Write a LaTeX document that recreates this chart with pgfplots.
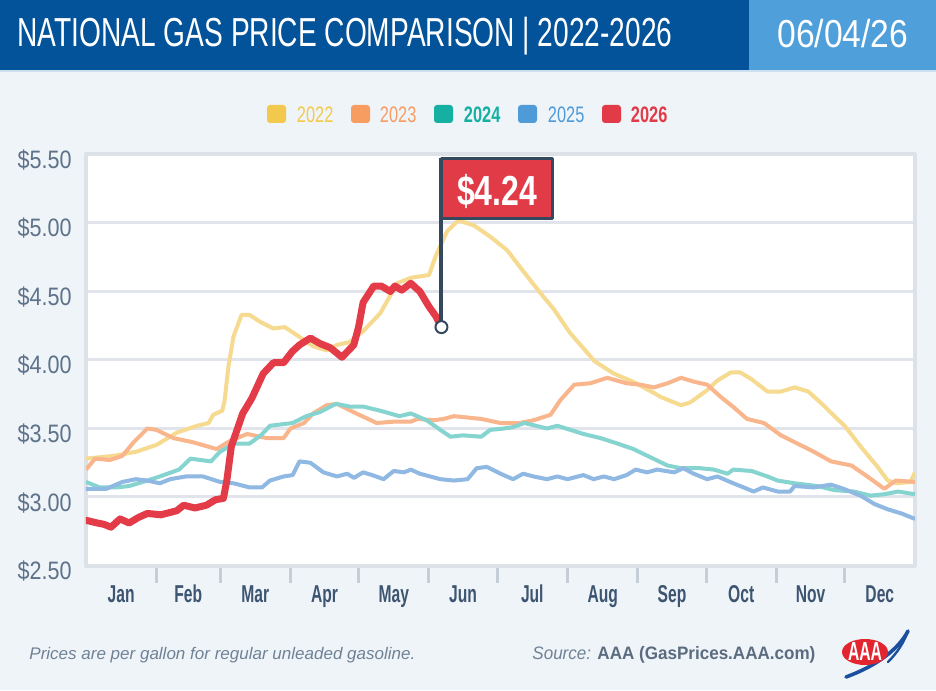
\documentclass[border=0pt]{standalone}
\usepackage{fontspec}
\setmainfont{Liberation Sans}
\usepackage{graphicx}
\usepackage{pgfplots}
\usepackage{pgfplotstable}
\pgfplotsset{compat=1.18}

\definecolor{bgcol}{HTML}{EFF4F9}
\definecolor{hdrdark}{HTML}{02539A}
\definecolor{hdrlight}{HTML}{4F9FDA}
\definecolor{hdrline}{HTML}{CDE0F2}
\definecolor{framecol}{HTML}{DDE2E9}
\definecolor{gridcol}{HTML}{E1E4EA}
\definecolor{tickcol}{HTML}{C5CDD6}
\definecolor{ylabcol}{HTML}{5E7289}
\definecolor{monthcol}{HTML}{3D5570}
\definecolor{slate}{HTML}{34495E}
\definecolor{flagred}{HTML}{E23B48}
\definecolor{leg22}{HTML}{F2C94C}
\definecolor{leg23}{HTML}{F79D62}
\definecolor{leg24}{HTML}{15B0A1}
\definecolor{leg25}{HTML}{4F9BD8}
\definecolor{leg26}{HTML}{E23B48}
\definecolor{ln22}{HTML}{F6DA8F}
\definecolor{ln23}{HTML}{F9B58C}
\definecolor{ln24}{HTML}{86D4D0}
\definecolor{ln25}{HTML}{8FB8E3}
\definecolor{ln26}{HTML}{E33B47}
\definecolor{foot}{HTML}{6F8196}
\definecolor{footbold}{HTML}{5B6C80}
\definecolor{aaared}{HTML}{E2252F}
\definecolor{aaablue}{HTML}{1D4F9F}

\newcommand\ylab[1]{\resizebox{27pt}{\height}{\fontsize{12.6pt}{14pt}\selectfont #1}}
\newcommand\mon[1]{\scalebox{0.64}[1]{\fontsize{12.2pt}{14pt}\selectfont\bfseries #1}}
\newcommand\legtxt[2]{\resizebox{20.5pt}{\height}{\fontsize{11.2pt}{13pt}\selectfont #1 #2}}

\pgfplotstableread{
d p
0 3.28
12 3.30
22 3.33
31 3.38
40 3.47
49 3.52
54 3.54
56 3.60
60 3.63
61 3.70
62.7 3.95
64.9 4.17
68.5 4.33
72 4.33
76.5 4.28
82.5 4.23
87.5 4.24
93 4.18
100 4.10
106 4.07
110.5 4.11
116 4.13
122 4.21
129.5 4.34
137 4.56
143 4.60
151 4.62
154 4.76
159 4.94
164 5.02
171 4.98
178 4.90
185.5 4.80
191 4.68
200 4.49
206 4.37
213 4.20
224 3.99
232.5 3.90
241 3.84
250 3.76
253 3.73
262 3.67
266 3.69
273.5 3.78
278 3.85
284 3.91
288 3.91
293 3.86
300 3.77
306 3.77
312 3.80
318 3.77
324 3.68
329.5 3.59
334 3.52
341 3.37
348.5 3.22
353 3.12
357 3.10
363 3.11
365 3.18
}\tabA

\pgfplotstableread{
d p
0 3.20
4 3.28
10.5 3.27
16 3.30
21 3.40
27 3.50
31 3.49
38.5 3.43
47 3.40
57.5 3.35
63.5 3.41
71 3.46
79.5 3.43
87 3.43
90 3.50
96 3.54
100 3.61
106 3.67
110.5 3.68
119 3.61
128 3.54
135.5 3.55
143 3.55
146 3.57
153 3.56
157.5 3.57
162 3.59
174 3.57
182.5 3.54
191 3.54
197 3.56
204.5 3.60
209 3.71
215 3.82
222 3.83
229.5 3.87
238 3.83
244 3.82
250 3.80
256 3.83
262 3.87
268 3.84
273.5 3.82
279.5 3.73
285.5 3.65
291 3.57
298.5 3.54
306 3.45
312 3.40
320.5 3.33
328 3.26
337 3.23
344 3.15
351.5 3.06
356.5 3.12
365 3.11
}\tabB

\pgfplotstableread{
d p
0 3.11
6 3.07
13.5 3.07
19 3.08
27 3.12
32.5 3.15
41 3.20
46 3.28
55 3.26
59 3.33
65 3.39
72 3.39
77 3.45
81 3.52
91 3.54
97 3.59
103 3.62
110 3.68
116 3.66
122 3.66
129.5 3.63
138 3.59
143 3.61
150 3.56
156 3.49
160.5 3.44
166 3.45
174 3.44
178 3.49
184 3.50
188 3.51
193 3.54
203 3.50
207.5 3.52
219 3.46
226.5 3.43
234 3.39
241 3.35
248.5 3.29
256 3.23
262 3.21
270.5 3.21
276.5 3.20
282.5 3.17
285 3.20
293 3.19
300 3.15
304.5 3.12
312 3.10
322 3.08
329.5 3.05
338 3.04
345.5 3.01
351.5 3.02
357.5 3.04
365 3.02
}\tabC

\pgfplotstableread{
d p
0 3.06
9 3.06
16 3.11
22 3.13
27 3.12
32.5 3.10
37 3.13
44 3.15
51.5 3.15
59 3.11
65 3.10
72 3.07
77.5 3.07
81 3.12
87 3.15
91 3.16
94 3.26
98.8 3.25
104.5 3.18
110.5 3.15
115 3.17
118 3.14
122 3.18
126 3.16
131 3.13
135.5 3.19
140 3.18
143 3.20
147 3.17
151.5 3.15
156 3.13
162 3.12
168 3.13
172 3.21
176.5 3.22
182.5 3.17
188 3.13
192.5 3.17
197 3.15
203 3.13
207.5 3.15
212 3.13
219 3.16
223.5 3.13
228 3.15
232.5 3.13
238 3.16
242 3.20
247 3.18
251.5 3.20
259 3.18
263 3.21
267.5 3.17
273.5 3.13
278 3.15
285 3.10
294 3.04
298 3.07
304.5 3.04
310 3.04
312 3.08
320.5 3.07
328 3.09
333.5 3.06
341 3.01
347 2.95
353 2.91
359 2.88
365 2.84
}\tabD

\pgfplotstableread{
d p
0 2.83
5 2.81
8 2.80
11 2.78
15 2.84
19 2.81
23 2.85
27 2.88
33 2.87
40 2.90
43 2.94
48 2.92
53 2.94
57 2.98
60.5 2.99
62 3.12
64 3.37
66.5 3.49
69 3.61
73 3.72
78 3.90
82.5 3.98
87 3.98
90.7 4.06
94 4.11
98.8 4.16
103 4.12
107.5 4.09
112.7 4.02
117.9 4.11
120 4.24
122 4.42
126.7 4.54
130 4.54
134 4.50
136 4.54
139 4.51
143 4.56
147 4.50
151 4.39
154 4.32
156.5 4.24
}\tabE

\begin{document}
\begin{tikzpicture}
\useasboundingbox (0,0) rectangle (468pt,345pt);
% background
\fill[bgcol] (0,0) rectangle (468pt,345pt);
\fill[hdrdark] (0,310pt) rectangle (374.5pt,345pt);
\fill[hdrlight] (374.5pt,310pt) rectangle (468pt,345pt);
\fill[hdrline] (0,309pt) rectangle (468pt,310pt);
\node[anchor=base west, inner sep=0pt, text=white] at (8.5pt,321.5pt)
  {\resizebox{327.5pt}{\height}{\fontsize{20.25pt}{24pt}\selectfont NATIONAL GAS PRICE COMPARISON | 2022-2026}};
\node[anchor=base west, inner sep=0pt, text=white] at (388.5pt,321pt)
  {\resizebox{65.5pt}{\height}{\fontsize{19.5pt}{24pt}\selectfont 06/04/26}};

% legend
\fill[leg22, rounded corners=1.5pt] (133.5pt,283.5pt) rectangle ++(9.5pt,9pt);
\node[anchor=base west, inner sep=0pt, text=leg22] at (146pt,283.5pt) {\legtxt{}{2022}};
\fill[leg23, rounded corners=1.5pt] (175.5pt,283.5pt) rectangle ++(9.5pt,9pt);
\node[anchor=base west, inner sep=0pt, text=leg23] at (187.5pt,283.5pt) {\legtxt{}{2023}};
\fill[leg24, rounded corners=1.5pt] (217pt,283.5pt) rectangle ++(9.5pt,9pt);
\node[anchor=base west, inner sep=0pt, text=leg24] at (229.5pt,283.5pt) {\legtxt{\bfseries}{2024}};
\fill[leg25, rounded corners=1.5pt] (259pt,283.5pt) rectangle ++(9.5pt,9pt);
\node[anchor=base west, inner sep=0pt, text=leg25] at (271.5pt,283.5pt) {\legtxt{}{2025}};
\fill[leg26, rounded corners=1.5pt] (301pt,283.5pt) rectangle ++(9.5pt,9pt);
\node[anchor=base west, inner sep=0pt, text=leg26] at (313pt,283.5pt) {\legtxt{\bfseries}{2026}};

\begin{axis}[
  at={(43pt,62.25pt)}, anchor=south west,
  width=414.5pt, height=205.5pt, scale only axis,
  xmin=0, xmax=365, ymin=2.5, ymax=5.5,
  axis background/.style={fill=white},
  axis line style={draw=framecol, line width=2pt},
  ytick={2.5,3,3.5,4,4.5,5,5.5},
  yticklabels={\ylab{\$2.50},\ylab{\$3.00},\ylab{\$3.50},\ylab{\$4.00},\ylab{\$4.50},\ylab{\$5.00},\ylab{\$5.50}},
  xtick={15.5,45,74.5,105,135.5,166,196.5,227.5,258,288.5,319,349.5},
  xticklabels={\mon{Jan},\mon{Feb},\mon{Mar},\mon{Apr},\mon{May},\mon{Jun},\mon{Jul},\mon{Aug},\mon{Sep},\mon{Oct},\mon{Nov},\mon{Dec}},
  minor xtick={31,59,90,120,151,181,212,243,273,304,334},
  major tick length=0pt,
  minor tick length=8.5pt,
  tick align=outside,
  xtick pos=bottom, ytick pos=left,
  minor tick style={draw=tickcol, line width=1.5pt},
  ymajorgrids,
  major grid style={draw=gridcol, line width=1.5pt},
  yticklabel style={text=ylabcol, anchor=base east, inner sep=0pt, xshift=-7pt, yshift=-7pt},
  xticklabel style={text=monthcol, anchor=base, inner sep=0pt, yshift=-18.5pt},
  line join=round,
]
\addplot[ln22, line width=2pt, no marks] table[x=d,y=p] {\tabA};
\addplot[ln23, line width=2pt, no marks] table[x=d,y=p] {\tabB};
\addplot[ln24, line width=2pt, no marks] table[x=d,y=p] {\tabC};
\addplot[ln25, line width=2pt, no marks] table[x=d,y=p] {\tabD};
\addplot[ln26, line width=3.5pt, no marks, line cap=round] table[x=d,y=p] {\tabE};
% flag annotation
\draw[slate, line width=2pt] (axis cs:156.5,4.24) -- (axis cs:156.5,5.474);
\draw[fill=flagred, draw=slate, line width=1.5pt] (axis cs:156.5,5.036) rectangle (axis cs:205.6,5.474);
\node[anchor=base, inner sep=0pt, text=white] at (axis cs:181,5.131)
  {\resizebox{40pt}{\height}{\fontsize{21pt}{24pt}\selectfont\bfseries \$4.24}};
\addplot[only marks, mark=*, mark size=3pt, mark options={fill=white, draw=slate, line width=1pt}] coordinates {(156.5,4.24)};
\end{axis}

% footer
\node[anchor=base west, inner sep=0pt, text=foot] at (14.5pt,15pt)
  {\resizebox{193pt}{\height}{\fontsize{8.4pt}{10pt}\selectfont\itshape Prices are per gallon for regular unleaded gasoline.}};
\node[anchor=base west, inner sep=0pt] at (266pt,15pt)
  {\resizebox{141.5pt}{\height}{\fontsize{9pt}{11pt}\selectfont{\color{foot}\itshape Source:} {\color{footbold}\bfseries AAA (GasPrices.AAA.com)}}};
% AAA logo
\draw[aaablue, line width=1.8pt, line cap=round] (423pt,6.5pt) .. controls (438pt,12pt) and (449pt,20pt) .. (454pt,29.5pt);
\fill[aaared] (432.5pt,19pt) ellipse [x radius=11.5pt, y radius=6.5pt];
\node[inner sep=0pt, text=white] at (432.5pt,19pt) {\resizebox{17pt}{9pt}{\bfseries AAA}};
\draw[aaablue, line width=1.2pt, line cap=round] (444pt,14pt) .. controls (449pt,19pt) and (452pt,24pt) .. (454pt,29.5pt);
\end{tikzpicture}
\end{document}
